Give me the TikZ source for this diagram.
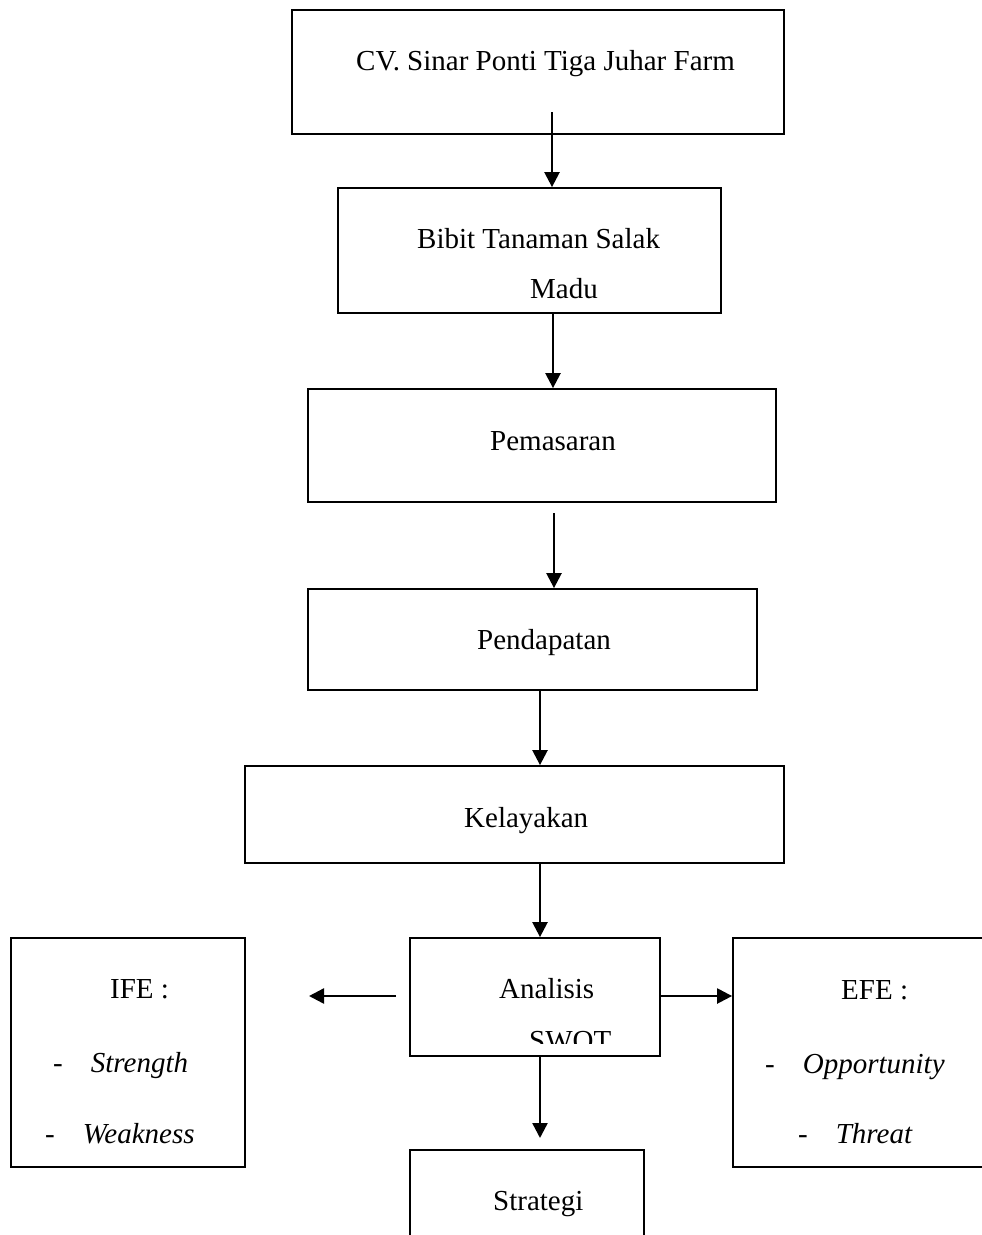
\documentclass[tikz,border=0pt]{standalone}
\usepackage{fontspec}
\setmainfont{Liberation Serif}
\usepackage{tikz}
\usetikzlibrary{arrows.meta,calc}
\newcommand{\itm}[1]{-\hspace{28pt}\textit{#1}}

\begin{document}
\begin{tikzpicture}[x=1pt,y=-1pt,
	box/.style={draw,line width=1.8pt,inner sep=0pt},
	txt/.style={anchor=base west,inner sep=0pt,font=\fontsize{29}{35}\selectfont},
	arr/.style={line width=2.4pt,-{Triangle[length=15pt,width=15pt]}}]
	%	\draw[help lines] (0,0) grid (982,1235);
	\useasboundingbox (0,0) rectangle (982,1235);
	\clip (0,0) rectangle (982,1235);

		\node[box,minimum width=492pt,minimum height=124pt] (cv) at (538,72) {};
		\node[box,minimum width=383pt,minimum height=125pt] (bibit) at (529.5,250.5) {};
		\node[box,minimum width=468pt,minimum height=113pt] (pem) at (542,445.5) {};
		\node[box,minimum width=449pt,minimum height=101pt] (pend) at (532.5,639.5) {};
		\node[box,minimum width=539pt,minimum height=97pt] (kel) at (514.5,814.5) {};
		\node[box,minimum width=250pt,minimum height=118pt] (swot) at (535,997) {};
		\node[box,minimum width=234pt,minimum height=229pt] (ife) at (128,1052.5) {};
		\node[box,minimum width=267pt,minimum height=229pt] (efe) at (866.5,1052.5) {};
		\node[box,minimum width=234pt,minimum height=110pt] (strat) at (527,1205) {};

		\node[txt] (cvt) at (356,70) {CV. Sinar Ponti Tiga Juhar Farm};
		\node[txt] (bibitt) at (417,248) {Bibit Tanaman Salak};
		\node[txt] (madut) at (530,298) {Madu};
		\node[txt] (pemt) at (490,450) {Pemasaran};
		\node[txt] (pendt) at (477,649) {Pendapatan};
		\node[txt] (kelt) at (464,827) {Kelayakan};
		\node[txt] (anat) at (499,998) {Analisis};
		\begin{scope}
			\clip (410,938) rectangle (660,1043);
			\node[txt] (swott) at (529,1050) {SWOT};
		\end{scope}
		\node[txt] (ifet) at (110,998) {IFE :};
		\node[txt] (strt) at (53,1072) {\itm{Strength}};
		\node[txt] (weat) at (45,1143) {\itm{Weakness}};
		\node[txt] (efet) at (841,999) {EFE :};
		\node[txt] (oppt) at (765,1073) {\itm{Opportunity}};
		\node[txt] (thrt) at (798,1143) {\itm{Threat}};
		\node[txt] (stratt) at (493,1210) {Strategi};

		\coordinate (a1) at (552,112);
		\coordinate (x2) at (553,0);
		\coordinate (a3) at (554,513);
		\coordinate (x4) at (540,0);
		\coordinate (l1) at (396,996);
		\coordinate (l2) at (309,996);
		\coordinate (r1) at (660,996);
		\coordinate (d1) at (540,1138);

		\draw[arr] (a1) -- (a1 |- bibit.north);
		\draw[arr] (bibit.south -| x2) -- (pem.north -| x2);
		\draw[arr] (a3) -- (a3 |- pend.north);
		\draw[arr] (pend.south -| x4) -- (kel.north -| x4);
		\draw[arr] (kel.south -| x4) -- (swot.north -| x4);
		\draw[arr] (l1) -- (l2);
		\draw[arr] (r1) -- (r1 -| efe.west);
		\draw[arr] (swot.south -| x4) -- (d1);

\end{tikzpicture}
\end{document}
